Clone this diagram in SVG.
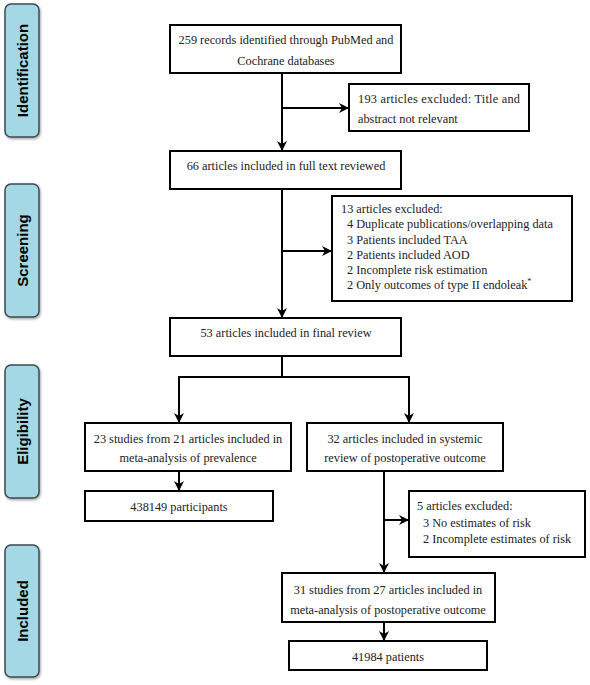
<svg xmlns="http://www.w3.org/2000/svg" width="590" height="685" viewBox="0 0 590 685">
<defs>
<marker id="ah" viewBox="0 0 10 10" refX="9" refY="5" markerWidth="5" markerHeight="5" orient="auto" markerUnits="strokeWidth">
<path d="M0,0 L10,5 L0,10 L3,5 Z" fill="#000"/>
</marker>
<filter id="sh" x="-20%" y="-20%" width="140%" height="140%">
<feDropShadow dx="1" dy="1.5" stdDeviation="1" flood-color="#000" flood-opacity="0.35"/>
</filter>
</defs>
<style>
.stage{fill:#a4d8e4;stroke:#3c4a50;stroke-width:1.5;filter:url(#sh)}
.st{font-family:"Liberation Sans",Arial,sans-serif;font-weight:bold;font-size:15px;fill:#000;text-anchor:middle}
.box{fill:#fff;stroke:#000;stroke-width:2}
.t{font-family:"Liberation Serif","Times New Roman",serif;font-size:12.3px;fill:#222}
.c{text-anchor:middle}
.ln{fill:none;stroke:#000;stroke-width:2}
</style>
<rect width="590" height="685" fill="#fff"/>
<g id="stage-identification"><rect class="stage" x="5" y="4" width="34" height="133" rx="6"/><text class="st" transform="translate(28,70.5) rotate(-90)">Identification</text></g>
<g id="stage-screening"><rect class="stage" x="5" y="184" width="34" height="133" rx="6"/><text class="st" transform="translate(28,250.5) rotate(-90)">Screening</text></g>
<g id="stage-eligibility"><rect class="stage" x="5" y="365" width="34" height="133" rx="6"/><text class="st" transform="translate(28,431.5) rotate(-90)">Eligibility</text></g>
<g id="stage-included"><rect class="stage" x="5" y="545" width="34" height="132" rx="6"/><text class="st" transform="translate(28,611) rotate(-90)">Included</text></g>

<g id="connectors">
<path class="ln" d="M282,73 V150" marker-end="url(#ah)"/>
<path class="ln" d="M282,108 H348" marker-end="url(#ah)"/>
<path class="ln" d="M282,189 V317" marker-end="url(#ah)"/>
<path class="ln" d="M282,251 H331" marker-end="url(#ah)"/>
<path class="ln" d="M282,356 V377"/>
<path class="ln" d="M179,377 H409"/>
<path class="ln" d="M179,376 V422" marker-end="url(#ah)"/>
<path class="ln" d="M409,376 V422" marker-end="url(#ah)"/>
<path class="ln" d="M179,471 V490" marker-end="url(#ah)"/>
<path class="ln" d="M384,471 V572" marker-end="url(#ah)"/>
<path class="ln" d="M384,520 H408" marker-end="url(#ah)"/>
<path class="ln" d="M384,622 V640" marker-end="url(#ah)"/>
</g>

<g id="n1"><rect class="box" x="170" y="25" width="231" height="48"/>
<text class="t c" x="286" y="44">259 records identified through PubMed and</text>
<text class="t c" x="286" y="65">Cochrane databases</text></g>
<g id="n2"><rect class="box" x="349" y="84" width="180" height="47"/>
<text class="t" x="358" y="103" textLength="162" lengthAdjust="spacing">193 articles excluded: Title and</text>
<text class="t" x="358" y="123">abstract not relevant</text></g>
<g id="n3"><rect class="box" x="170" y="151" width="231" height="38"/>
<text class="t c" x="286" y="170">66 articles included in full text reviewed</text></g>
<g id="n4"><rect class="box" x="332" y="196" width="240" height="105"/>
<text class="t" x="341" y="213">13 articles excluded:</text>
<text class="t" x="347" y="228">4 Duplicate publications/overlapping data</text>
<text class="t" x="347" y="243.5">3 Patients included TAA</text>
<text class="t" x="347" y="258.5">2 Patients included AOD</text>
<text class="t" x="347" y="274">2 Incomplete risk estimation</text>
<text class="t" x="347" y="289">2 Only outcomes of type II endoleak<tspan font-size="8" dy="-5">*</tspan></text></g>
<g id="n5"><rect class="box" x="170" y="318" width="231" height="38"/>
<text class="t c" x="286" y="337">53 articles included in final review</text></g>
<g id="n6"><rect class="box" x="85" y="423" width="206" height="48"/>
<text class="t c" x="188" y="443">23 studies from 21 articles included in</text>
<text class="t c" x="188" y="462">meta-analysis of prevalence</text></g>
<g id="n7"><rect class="box" x="307" y="423" width="196" height="48"/>
<text class="t c" x="405" y="443">32 articles included in systemic</text>
<text class="t c" x="405" y="462">review of postoperative outcome</text></g>
<g id="n8"><rect class="box" x="85" y="491" width="188" height="30"/>
<text class="t c" x="179" y="511">438149 participants</text></g>
<g id="n9"><rect class="box" x="409" y="491" width="176" height="66"/>
<text class="t" x="417" y="510">5 articles excluded:</text>
<text class="t" x="423" y="527">3 No estimates of risk</text>
<text class="t" x="423" y="543">2 Incomplete estimates of risk</text></g>
<g id="n10"><rect class="box" x="282" y="573" width="213" height="49"/>
<text class="t c" x="388" y="594">31 studies from 27 articles included in</text>
<text class="t c" x="388" y="614">meta-analysis of postoperative outcome</text></g>
<g id="n11"><rect class="box" x="289" y="641" width="198" height="29"/>
<text class="t c" x="388" y="661">41984 patients</text></g>
</svg>
